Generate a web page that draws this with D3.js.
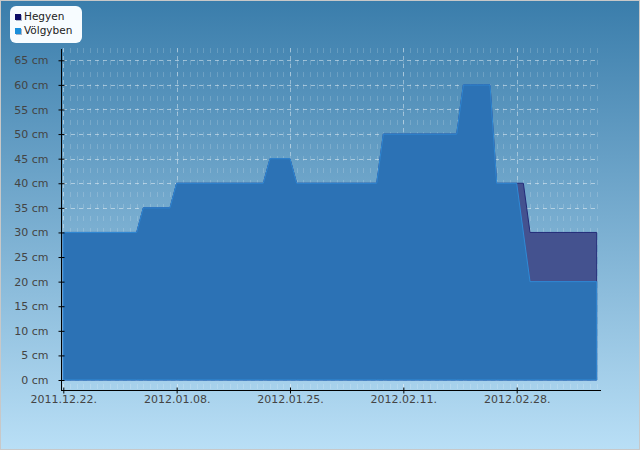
<!DOCTYPE html>
<html>
<head>
<meta charset="utf-8">
<script src="https://cdn.jsdelivr.net/npm/d3@7"></script>
<style>
  body { margin: 0; background: #fff; }
  svg { display: block; font-family: "DejaVu Sans", sans-serif; }
</style>
</head>
<body>
<div id="chart"></div>
<script>
// Snow depth, two stations (change points only; straight lines between them)
const volgybenDates = ['2011-12-22', '2012-01-02', '2012-01-03', '2012-01-07', '2012-01-08', '2012-01-21',
  '2012-01-22', '2012-01-25', '2012-01-26', '2012-02-07', '2012-02-08', '2012-02-19', '2012-02-20',
  '2012-02-24', '2012-02-25', '2012-02-28', '2012-03-01', '2012-03-11'];
const volgybenValues = [30, 30, 35, 35, 40, 40, 45, 45, 40, 40, 50, 50, 60, 60, 40, 40, 20, 20];

const hegyenDates = ['2011-12-22', '2012-01-02', '2012-01-03', '2012-01-07', '2012-01-08', '2012-01-21',
  '2012-01-22', '2012-01-25', '2012-01-26', '2012-02-07', '2012-02-08', '2012-02-19', '2012-02-20',
  '2012-02-24', '2012-02-25', '2012-02-29', '2012-03-01', '2012-03-11'];
const hegyenValues = [30, 30, 35, 35, 40, 40, 45, 45, 40, 40, 50, 50, 60, 60, 40, 40, 30, 30];

const seriesNames = ['Hegyen', 'Völgyben'];
const xTickLabels = ['2011-12-22', '2012-01-08', '2012-01-25', '2012-02-11', '2012-02-28'];
const yTickValues = [0, 5, 10, 15, 20, 25, 30, 35, 40, 45, 50, 55, 60, 65];

const width = 640;
const height = 450;
const parse = d3.utcParse('%Y-%m-%d');
const fmt = d3.utcFormat('%Y.%m.%d.');

const toPoints = (dates, values) => dates.map((d, i) => ({ date: parse(d), value: values[i] }));
const hegyen = toPoints(hegyenDates, hegyenValues);
const volgyben = toPoints(volgybenDates, volgybenValues);

const svg = d3.select('#chart').append('svg').attr('width', width).attr('height', height);

// Background gradient
const defs = svg.append('defs');
const grad = defs.append('linearGradient').attr('id', 'bg').attr('x1', 0).attr('y1', 0).attr('x2', 0).attr('y2', 1);
grad.append('stop').attr('offset', '0%').attr('stop-color', '#3a7dab');
grad.append('stop').attr('offset', '100%').attr('stop-color', '#b9dff6');
svg.append('rect').attr('x', 0.5).attr('y', 0.5).attr('width', width - 1).attr('height', height - 1)
  .attr('fill', 'url(#bg)').attr('stroke', '#c8c8c8');

// Scales
const xScale = d3.scaleUtc().domain([parse('2011-12-22'), parse('2012-03-11')]).range([63.3, 596.7]);
const yScale = d3.scaleLinear().domain([0, 67.5]).range([380, 48]);

const plotLeft = 61, plotRight = 601, plotTop = 48, plotBottom = 390;

// Grid: faint vertical dashes each day
const days = d3.utcDay.range(parse('2011-12-22'), d3.utcDay.offset(parse('2012-03-11'), 1));
svg.append('g').selectAll('line').data(days).enter().append('line')
  .attr('x1', (d) => Math.round(xScale(d)) + 0.5).attr('x2', (d) => Math.round(xScale(d)) + 0.5)
  .attr('y1', plotTop).attr('y2', plotBottom)
  .attr('stroke', 'rgba(255,255,255,0.17)').attr('stroke-dasharray', '5,7');

// Grid: horizontal dashed lines
svg.append('g').selectAll('line').data(yTickValues).enter().append('line')
  .attr('x1', 63).attr('x2', 599)
  .attr('y1', (d) => Math.round(yScale(d)) + 0.5).attr('y2', (d) => Math.round(yScale(d)) + 0.5)
  .attr('stroke', 'rgba(255,255,255,0.45)').attr('stroke-dasharray', '4,4');

// Grid: vertical dashed lines at labelled dates
svg.append('g').selectAll('line').data(xTickLabels.map(parse)).enter().append('line')
  .attr('x1', (d) => Math.round(xScale(d)) + 0.5).attr('x2', (d) => Math.round(xScale(d)) + 0.5)
  .attr('y1', plotTop).attr('y2', plotBottom)
  .attr('stroke', 'rgba(255,255,255,0.4)').attr('stroke-dasharray', '4,4');

// Areas
const area = d3.area().x((d) => xScale(d.date)).y0(yScale(0)).y1((d) => yScale(d.value));

svg.append('path').datum(hegyen).attr('d', area)
  .attr('fill', '#44528f').attr('stroke', '#232a78').attr('stroke-width', 1);
svg.append('path').datum(volgyben).attr('d', area)
  .attr('fill', '#2c72b5').attr('stroke', '#2f8ad6').attr('stroke-width', 1);

// Y axis
const yAxis = d3.axisLeft(yScale).tickValues(yTickValues).tickFormat((d) => d + ' cm').tickSizeOuter(0).tickPadding(7);
const gy = svg.append('g').attr('transform', `translate(${plotLeft + 0.5},0)`).call(yAxis);
gy.select('.domain').remove();
gy.selectAll('.tick line').attr('x1', -3).attr('x2', 3).attr('stroke', '#000');
gy.selectAll('.tick text').attr('fill', '#444').attr('font-size', 11).attr('font-family', '"DejaVu Sans", sans-serif');

// X axis
const xAxis = d3.axisBottom(xScale).tickValues(xTickLabels.map(parse)).tickFormat(fmt).tickSizeOuter(0);
const gx = svg.append('g').attr('transform', `translate(0,${plotBottom + 0.5})`).call(xAxis);
gx.select('.domain').remove();
gx.selectAll('.tick line').attr('y1', -3).attr('y2', 3).attr('stroke', '#000');
gx.selectAll('.tick text').attr('y', 5).attr('fill', '#444').attr('font-size', 11).attr('font-family', '"DejaVu Sans", sans-serif');

// Axis lines
svg.append('line').attr('x1', plotLeft + 0.5).attr('x2', plotLeft + 0.5).attr('y1', plotTop + 1).attr('y2', plotBottom + 1)
  .attr('stroke', '#000');
svg.append('line').attr('x1', plotLeft).attr('x2', plotRight).attr('y1', plotBottom + 0.5).attr('y2', plotBottom + 0.5)
  .attr('stroke', '#000');

// Legend
const legend = svg.append('g');
legend.append('rect').attr('x', 10).attr('y', 6).attr('width', 72).attr('height', 37).attr('rx', 6)
  .attr('fill', '#f7fcff');
const legendColors = ['#0d0d66', '#1a8fdb'];
seriesNames.forEach((name, i) => {
  const yy = 20 + i * 14;
  legend.append('rect').attr('x', 16).attr('y', yy - 5).attr('width', 6).attr('height', 6).attr('fill', '#aab4c8');
  legend.append('rect').attr('x', 15).attr('y', yy - 6).attr('width', 6).attr('height', 6).attr('fill', legendColors[i]);
  legend.append('text').attr('x', 24).attr('y', yy).attr('font-size', 10.5).attr('fill', '#222').text(name);
});
</script>
</body>
</html>
